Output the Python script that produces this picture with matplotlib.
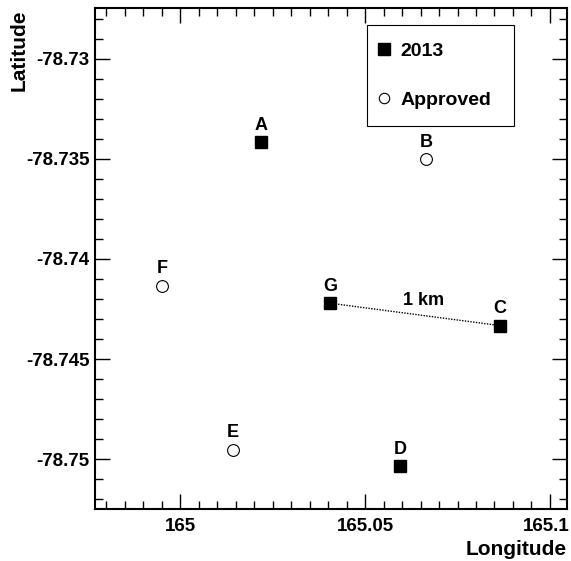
import matplotlib
matplotlib.use("Agg")
import matplotlib.pyplot as plt
from matplotlib.lines import Line2D
from matplotlib.ticker import MultipleLocator, FuncFormatter
from matplotlib.transforms import ScaledTranslation

# site positions
names_2013 = ["A", "C", "D", "G"]
lon_2013 = [165.0218, 165.0865, 165.0595, 165.0405]
lat_2013 = [-78.73416, -78.74333, -78.75035, -78.74221]

names_approved = ["B", "E", "F"]
lon_approved = [165.0665, 165.01424, 164.9952]
lat_approved = [-78.73502, -78.74952, -78.74133]

# 1 km scale line drawn between G and C
scale_ends = ["G", "C"]
scale_label = "1 km"

xlim = (164.977, 165.1046)
ylim = (-78.7525, -78.72745)

plt.rcParams["font.family"] = ["Liberation Sans", "DejaVu Sans"]
plt.rcParams["font.weight"] = "bold"

fig = plt.figure(figsize=(5.71, 5.61), dpi=100)
ax = fig.add_axes([95 / 571, 1 - 509.3 / 561, 472 / 571, 501.8 / 561])

# scale line
pos = dict(zip(names_2013, zip(lon_2013, lat_2013)))
sx = [pos[n][0] for n in scale_ends]
sy = [pos[n][1] for n in scale_ends]
ax.plot(sx, sy, color="black", linestyle=(0, (1, 1)), linewidth=1.0, zorder=2)
ax.annotate(scale_label, xy=(sum(sx) / 2, sum(sy) / 2), xytext=(6, 4),
            textcoords="offset points", ha="center", va="bottom",
            fontsize=13, fontweight="bold")

ax.plot(lon_2013, lat_2013, linestyle="none", marker="s", markersize=8,
        color="black", zorder=3)
ax.plot(lon_approved, lat_approved, linestyle="none", marker="o", markersize=8.5,
        markerfacecolor="white", markeredgecolor="black", markeredgewidth=0.8,
        zorder=3)

for n, x, y in zip(names_2013 + names_approved, lon_2013 + lon_approved,
                   lat_2013 + lat_approved):
    ax.annotate(n, xy=(x, y), xytext=(0, 6), textcoords="offset points",
                ha="center", va="bottom", fontsize=13, fontweight="bold")

ax.set_xlim(*xlim)
ax.set_ylim(*ylim)

ax.xaxis.set_major_locator(MultipleLocator(0.05))
ax.xaxis.set_minor_locator(MultipleLocator(0.005))
ax.yaxis.set_major_locator(MultipleLocator(0.005))
ax.yaxis.set_minor_locator(MultipleLocator(0.001))
ax.xaxis.set_major_formatter(FuncFormatter(lambda v, p: f"{v:.3f}".rstrip("0").rstrip(".")))
ax.yaxis.set_major_formatter(FuncFormatter(lambda v, p: f"{v:.3f}".rstrip("0").rstrip(".")))

ax.tick_params(which="both", direction="in", top=True, right=True, width=1.0)
ax.tick_params(which="major", length=10.8)
ax.tick_params(which="minor", length=5.8)
ax.tick_params(axis="x", which="major", labelsize=13.5, pad=6)
ax.tick_params(axis="y", which="major", labelsize=13.5, pad=4)
for s in ax.spines.values():
    s.set_linewidth(1.5)

ax.set_xlabel("Longitude", fontsize=15, fontweight="bold", loc="right", labelpad=4)
ax.set_ylabel("Latitude", fontsize=15, fontweight="bold", loc="top")
ax.yaxis.set_label_coords((29 - 95) / 472, 0.997)

handles = [
    Line2D([], [], linestyle="none", marker="s", markersize=8, color="black"),
    Line2D([], [], linestyle="none", marker="o", markersize=7.5,
           markerfacecolor="white", markeredgecolor="black", markeredgewidth=0.8),
]
leg = ax.legend(handles, ["2013", "Approved"], loc="upper left",
                bbox_to_anchor=(366.7 / 571, 1 - 25 / 561, 147.3 / 571, 0),
                bbox_transform=fig.transFigure, mode="expand",
                fontsize=14, frameon=True, fancybox=False, edgecolor="black",
                framealpha=1, borderpad=0.9, handlelength=0.0,
                handletextpad=0.85, labelspacing=1.6, borderaxespad=0)
leg.get_frame().set_linewidth(0.8)
for t in leg.get_texts():
    t.set_fontweight("bold")

# keep the last longitude label inside the picture, as in the reference
fig.canvas.draw()
for lab in ax.get_xticklabels():
    if lab.get_text() == "165.1":
        lab.set_transform(lab.get_transform()
                          + ScaledTranslation(-4 / 100, 0, fig.dpi_scale_trans))

fig.savefig("out.png", dpi=100)
